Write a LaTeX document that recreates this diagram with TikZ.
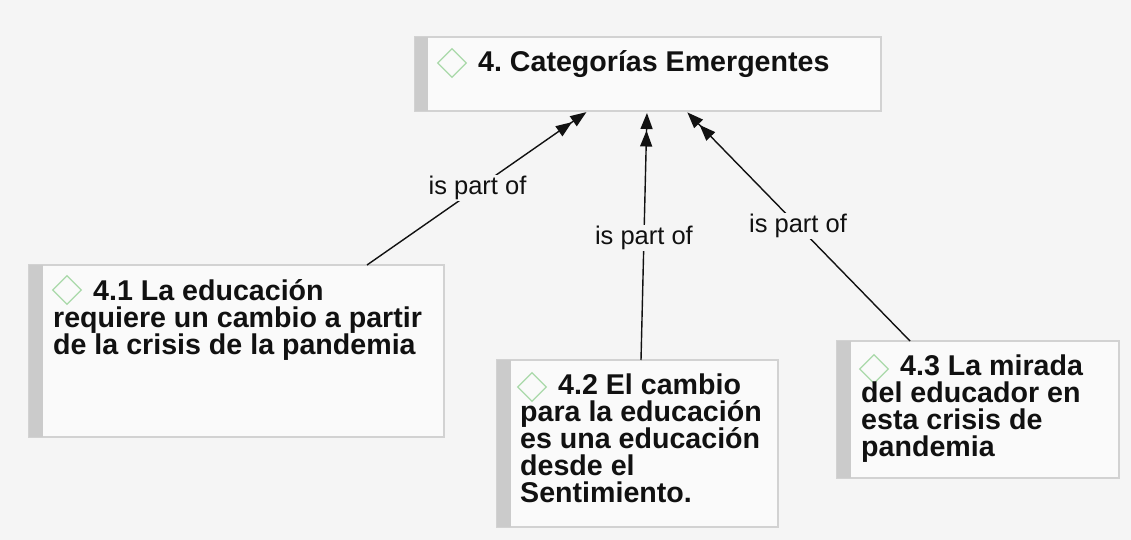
\documentclass[tikz,border=0pt]{standalone}
\usepackage{fontspec}
\setmainfont{Liberation Sans}
\usetikzlibrary{arrows.meta,shapes.geometric}
\definecolor{bg}{HTML}{F5F5F5}
\definecolor{boxfill}{HTML}{FAFAFA}
\definecolor{boxline}{HTML}{D2D2D2}
\definecolor{barcol}{HTML}{CBCBCB}
\definecolor{iconcol}{HTML}{A9D9A9}
\definecolor{txt}{HTML}{111111}
\frenchspacing
\begin{document}
\begin{tikzpicture}[x=1pt,y=-1pt,
 box/.style={draw=boxline, line width=1.2pt, fill=boxfill, anchor=north west, inner sep=0pt, outer sep=0pt},
 bar/.style={fill=barcol, draw=none},
 icon/.style={diamond, draw=iconcol, line width=1.2pt, minimum width=29pt, minimum height=29pt, inner sep=0pt},
 btext/.style={anchor=base west, align=left, inner sep=0pt, font=\fontsize{28.6}{27}\selectfont\bfseries, text=txt},
 lab/.style={fill=bg, inner sep=1pt, font=\fontsize{25.5}{27}\selectfont, text=txt},
 rel/.style={line width=1.4pt, draw=txt, -{Triangle[length=16pt,width=12pt,sep=1.5pt]Triangle[length=16pt,width=12pt]}, shorten >=2pt}]
\fill[bg] (0,0) rectangle (1131,540);
\useasboundingbox (0,0) rectangle (1131,540);

% boxes
\node[box, minimum width=466pt, minimum height=74pt] (top) at (415,37) {};
\fill[bar] (top.north west) rectangle ([xshift=13pt]top.south west);
\node[box, minimum width=415pt, minimum height=172pt] (b1) at (29,265) {};
\fill[bar] (b1.north west) rectangle ([xshift=14pt]b1.south west);
\node[box, minimum width=281pt, minimum height=167pt] (b2) at (497,360) {};
\fill[bar] (b2.north west) rectangle ([xshift=14pt]b2.south west);
\node[box, minimum width=282pt, minimum height=137pt] (b3) at (837,341) {};
\fill[bar] (b3.north west) rectangle ([xshift=14pt]b3.south west);

% icons
\node[icon] (i0) at (452,63) {};
\node[icon] (i1) at (67,290) {};
\node[icon] (i2) at (532,387) {};
\node[icon] (i3) at (874,369) {};

% texts (base anchor = baseline of last line)
\node[btext] (t0) at (478,72) {4. Categorías Emergentes};
\node[btext] (t1) at (53,354) {\hspace*{40pt}4.1 La educación\\requiere un cambio a partir\\de la crisis de la pandemia};
\node[btext] (t2) at (520,502) {\hspace*{38pt}4.2 El cambio\\para la educación\\es una educación\\desde el\\Sentimiento.};
\node[btext] (t3) at (861,456) {\hspace*{39pt}4.3 La mirada\\del educador en\\esta crisis de\\pandemia};

% connectors
\draw[rel] ([xshift=338pt]b1.north west) -- node[lab, pos=0.5] (l1) {is part of} ([xshift=173pt]top.south west);
\draw[rel] ([xshift=144pt]b2.north west) -- node[lab, pos=0.49] (l2) {is part of} ([xshift=232pt]top.south west);
\draw[rel] ([xshift=73pt]b3.north west) -- node[lab, pos=0.5] (l3) {is part of} ([xshift=271pt]top.south west);
\end{tikzpicture}
\end{document}
